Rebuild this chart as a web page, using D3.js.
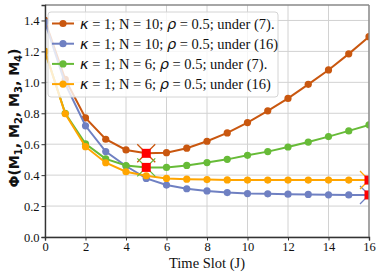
<!DOCTYPE html>
<html>
<head>
<meta charset="utf-8">
<script src="https://cdn.jsdelivr.net/npm/d3@7"></script>
<style>
  body { margin: 0; background: #fff; }
  svg { display: block; }
</style>
</head>
<body>
<svg id="chart" width="381" height="276"></svg>
<script>
// time slots and the four series
const slots = d3.range(0, 17);
const n10Eq7 = [1.40, 1.02, 0.77, 0.632, 0.563, 0.541, 0.545, 0.574, 0.619, 0.673, 0.740, 0.816, 0.896, 0.987, 1.080, 1.184, 1.295];
const n10Eq16 = [1.39, 0.99, 0.719, 0.552, 0.459, 0.379, 0.336, 0.312, 0.298, 0.287, 0.281, 0.279, 0.277, 0.275, 0.273, 0.272, 0.272];
const n6Eq7 = [1.20, 0.80, 0.602, 0.505, 0.462, 0.450, 0.450, 0.463, 0.481, 0.502, 0.528, 0.552, 0.582, 0.614, 0.649, 0.686, 0.725];
const n6Eq16 = [1.20, 0.797, 0.584, 0.480, 0.422, 0.396, 0.379, 0.374, 0.371, 0.369, 0.368, 0.368, 0.368, 0.368, 0.368, 0.368, 0.368];
const xTicks = [0, 2, 4, 6, 8, 10, 12, 14, 16];
const yTicks = [0.0, 0.2, 0.4, 0.6, 0.8, 1.0, 1.2, 1.4];

const series = [
  { values: n10Eq7, color: "#c9570f", N: "10", eq: "under (7).", best: 5 },
  { values: n10Eq16, color: "#6f80c2", N: "10", eq: "under (16)", best: 16 },
  { values: n6Eq7, color: "#67bb38", N: "6", eq: "under (7).", best: 5 },
  { values: n6Eq16, color: "#ffa500", N: "6", eq: "under (16)", best: 16 },
];

const svg = d3.select("#chart");
const margin = { top: 5, right: 12, bottom: 39, left: 45 };
const width = 381 - margin.left - margin.right;
const height = 276 - margin.top - margin.bottom;
const serif = "'Liberation Serif', 'Times New Roman', serif";
const mathFont = "'DejaVu Sans', sans-serif";

const x = d3.scaleLinear().domain([0, 16]).range([0, width]);
const y = d3.scaleLinear().domain([0, 1.5]).range([height, 0]);

const g = svg.append("g").attr("transform", `translate(${margin.left},${margin.top})`);

svg.append("defs").append("clipPath").attr("id", "plotClip")
  .append("rect").attr("width", width).attr("height", height);

// grid
g.append("g").selectAll("line").data(xTicks).join("line")
  .attr("x1", d => x(d)).attr("x2", d => x(d))
  .attr("y1", 0).attr("y2", height)
  .attr("stroke", "#d2d2d2").attr("stroke-width", 1);
g.append("g").selectAll("line").data(yTicks).join("line")
  .attr("x1", 0).attr("x2", width)
  .attr("y1", d => y(d)).attr("y2", d => y(d))
  .attr("stroke", "#d2d2d2").attr("stroke-width", 1);

// lines + markers
const plot = g.append("g").attr("clip-path", "url(#plotClip)");
const line = d3.line().x((d, i) => x(slots[i])).y(d => y(d));

series.forEach(s => {
  plot.append("path").datum(s.values)
    .attr("fill", "none").attr("stroke", s.color).attr("stroke-width", 2)
    .attr("d", line);
  plot.append("g").selectAll("circle").data(s.values).join("circle")
    .attr("cx", (d, i) => x(slots[i])).attr("cy", d => y(d))
    .attr("r", 3.6).attr("fill", s.color);
});

// highlighted optimum: coloured cross + red square
series.forEach(s => {
  const cx = x(s.best), cy = y(s.values[s.best]);
  const m = plot.append("g").attr("transform", `translate(${cx},${cy})`);
  const a = 9;
  m.append("path").attr("d", `M${-a},${-a}L${a},${a}M${-a},${a}L${a},${-a}`)
    .attr("stroke", s.color).attr("stroke-width", 1.3);
  m.append("rect").attr("x", -4.5).attr("y", -4.5).attr("width", 9).attr("height", 9)
    .attr("fill", "#ff0000");
});

// spines
g.append("line").attr("x1", 0).attr("x2", width).attr("y1", 0).attr("y2", 0)
  .attr("stroke", "#888").attr("stroke-width", 1.4);
g.append("line").attr("x1", width).attr("x2", width).attr("y1", 0).attr("y2", height)
  .attr("stroke", "#888").attr("stroke-width", 1.4);

const xAxis = g.append("g").attr("transform", `translate(0,${height})`)
  .call(d3.axisBottom(x).tickValues(xTicks).tickSize(3.5).tickPadding(2).tickFormat(d3.format("d")));
const yAxis = g.append("g")
  .call(d3.axisLeft(y).tickValues(yTicks).tickSize(3.5).tickPadding(2).tickFormat(d3.format(".1f")));
[xAxis, yAxis].forEach(ax => {
  ax.select(".domain").attr("stroke", "#333").attr("stroke-width", 1.4);
  ax.selectAll(".tick line").attr("stroke", "#333");
  ax.selectAll("text").attr("font-family", serif).attr("font-size", 12.5).attr("fill", "#111");
});

// axis labels
svg.append("text")
  .attr("x", margin.left + width / 2).attr("y", 268)
  .attr("text-anchor", "middle")
  .attr("font-family", serif).attr("font-size", 14.5).attr("fill", "#111")
  .text("Time Slot (J)");

const yl = svg.append("text")
  .attr("transform", `translate(19,${margin.top + height / 2 - 3}) rotate(-90)`)
  .attr("text-anchor", "middle")
  .attr("font-family", mathFont).attr("font-weight", "bold")
  .attr("font-size", 14).attr("fill", "#111");
yl.append("tspan").text("Φ(");
["1", "2", "3", "4"].forEach((k, i) => {
  yl.append("tspan").text("M");
  yl.append("tspan").attr("font-size", 10).attr("dy", 3).text(k);
  yl.append("tspan").attr("dy", -3).text(i < 3 ? ", " : ")");
});

// legend
const lg = svg.append("g").attr("transform", "translate(48,12)");
lg.append("rect").attr("width", 230).attr("height", 85).attr("rx", 3)
  .attr("fill", "#fff").attr("fill-opacity", 0.8)
  .attr("stroke", "#d4d4d4").attr("stroke-width", 1);
series.forEach((s, i) => {
  const row = lg.append("g").attr("transform", `translate(0,${11.5 + i * 20.2})`);
  row.append("line").attr("x1", 4).attr("x2", 26).attr("stroke", s.color).attr("stroke-width", 2);
  row.append("circle").attr("cx", 15).attr("r", 3.6).attr("fill", s.color);
  const t = row.append("text").attr("x", 32).attr("y", 5)
    .attr("font-family", serif).attr("font-size", 14.5).attr("fill", "#111");
  t.append("tspan").attr("font-family", mathFont).attr("font-style", "italic").text("κ");
  t.append("tspan").text(` = 1; N = ${s.N}; `);
  t.append("tspan").attr("font-family", mathFont).attr("font-style", "italic").text("ρ");
  t.append("tspan").text(` = 0.5; ${s.eq}`);
});
</script>
</body>
</html>
